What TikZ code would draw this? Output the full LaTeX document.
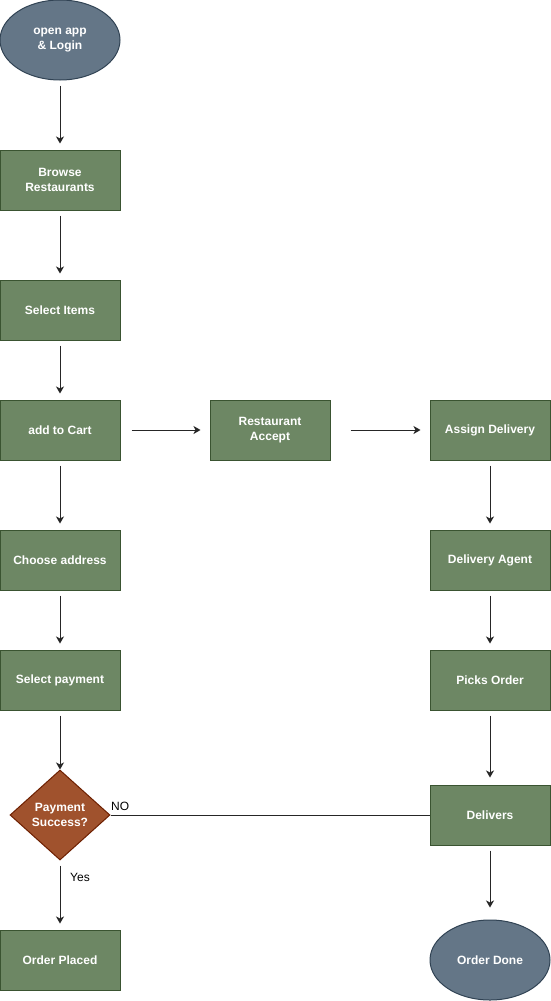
\documentclass[tikz,border=0pt]{standalone}
\usepackage{fontspec}
\setmainfont{Liberation Sans}
\usetikzlibrary{shapes.geometric,arrows.meta}

\definecolor{stepgreen}{HTML}{6D8764}
\definecolor{stepgreenline}{HTML}{3A5431}
\definecolor{endblue}{HTML}{647687}
\definecolor{endblueline}{HTML}{314354}
\definecolor{askbrown}{HTML}{A0522D}
\definecolor{askbrownline}{HTML}{6D1F00}

\tikzset{
    stepbox/.style={rectangle, draw=stepgreenline, fill=stepgreen, line width=1pt,
        minimum width=120pt, minimum height=60pt, inner sep=0pt,
        text=white, align=center, font=\fontsize{12}{15.5}\selectfont\bfseries},
    endbox/.style={ellipse, draw=endblueline, fill=endblue, line width=1pt,
        minimum width=120pt, minimum height=80pt, inner sep=0pt,
        text=white, align=center, font=\fontsize{12}{15.5}\selectfont\bfseries},
    askbox/.style={diamond, draw=askbrownline, fill=askbrown, line width=1pt,
        minimum width=100pt, minimum height=90pt, aspect=1.11, inner sep=0pt,
        text=white, align=center, font=\fontsize{12}{15.5}\selectfont\bfseries},
    flow/.style={draw=black!85, line width=1pt, -{Stealth[length=7pt,width=8pt,inset=2pt]}},
    tag/.style={font=\fontsize{12}{14}\selectfont, inner sep=0pt}
}

\begin{document}
\begin{tikzpicture}[x=1pt,y=-1pt]
            \useasboundingbox (0,0) rectangle (551,1001);

            % customer side
            \node [endbox] (login) at (60,40) {open app\\\& Login};
            \node [stepbox] (browse) at (60,180) {Browse\\Restaurants};
            \node [stepbox] (items) at (60,310) {Select Items};
            \node [stepbox] (cart) at (60,430) {add to Cart};
            \node [stepbox] (address) at (60,560) {Choose address};
            \node [stepbox] (payment) at (60,680) {Select payment};
            \node [askbox] (success) at (60,815) {Payment\\Success?};
            \node [stepbox] (placed) at (60,960) {Order Placed};

            % restaurant and delivery side
            \node [stepbox] (accept) at (270,430) {Restaurant\\Accept};
            \node [stepbox] (assign) at (490,430) {Assign Delivery};
            \node [stepbox] (agent) at (490,560) {Delivery Agent};
            \node [stepbox] (picks) at (490,680) {Picks Order};
            \node [stepbox] (delivers) at (490,815) {Delivers};
            \node [endbox] (done) at (490,960) {Order Done};

            \draw [flow, shorten <=5pt, shorten >=6pt] (login) -- (browse);
            \draw [flow, shorten <=5pt, shorten >=6pt] (browse) -- (items);
            \draw [flow, shorten <=5pt, shorten >=6pt] (items) -- (cart);
            \draw [flow, shorten <=5pt, shorten >=6pt] (cart) -- (address);
            \draw [flow, shorten <=5pt, shorten >=6pt] (address) -- (payment);
            \draw [flow, shorten <=5pt] (payment) -- (success);
            \draw [flow, shorten <=5pt, shorten >=6pt] (success) -- (placed);

            \draw [flow, shorten <=11pt, shorten >=9pt] (cart) -- (accept);
            \draw [flow, shorten <=20pt, shorten >=9pt] (accept) -- (assign);

            \draw [flow, shorten <=5pt, shorten >=6pt] (assign) -- (agent);
            \draw [flow, shorten <=5pt, shorten >=6pt] (agent) -- (picks);
            \draw [flow, shorten <=5pt, shorten >=7pt] (picks) -- (delivers);
            \draw [flow, shorten <=5pt, shorten >=12pt] (delivers) -- (done);

            % failed payment goes back to the delivery line
            \draw [draw=black!85, line width=1pt] (success.east) -- (delivers.west);
            \node [tag, anchor=west] (no) at (111,806) {NO};
            \node [tag, anchor=west] (yes) at (70,877) {Yes};
        \end{tikzpicture}
\end{document}
